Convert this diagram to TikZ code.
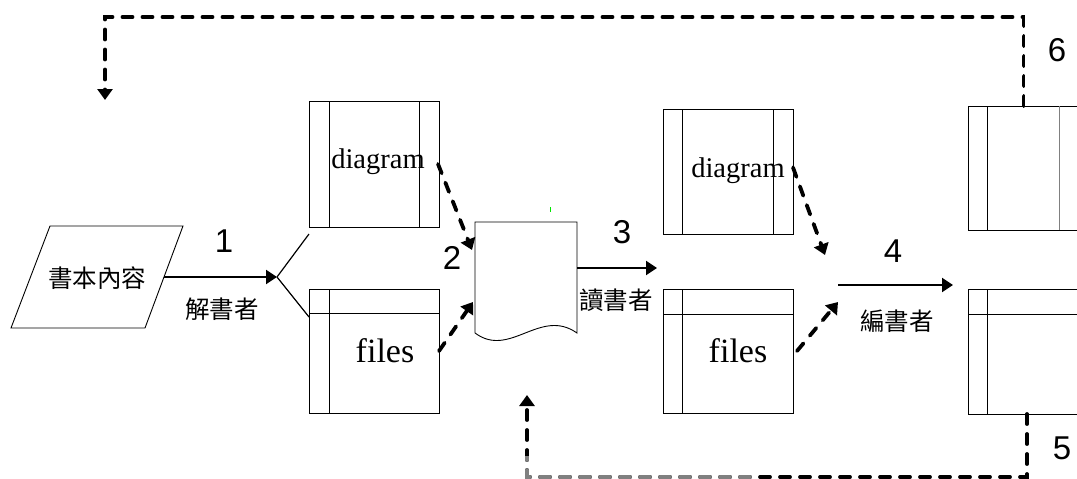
\documentclass[tikz,border=0pt]{standalone}
\usepackage{fontspec}
\setmainfont{Liberation Serif}
\newfontfamily\numfont{Liberation Sans}
\newfontfamily\cjk{Noto Sans CJK TC}
\usetikzlibrary{arrows.meta}
\begin{document}
\begin{tikzpicture}[x=1pt,y=-1pt,
 box/.style={draw, line width=0.9pt, rectangle, inner sep=0pt, outer sep=0pt, minimum width=130pt, minimum height=126pt},
 inner/.style={line width=0.9pt},
 solidarr/.style={line width=2pt, -{Triangle[length=11pt,width=14pt]}},
 dasharr/.style={line width=3.8pt, dash pattern=on 10pt off 10pt, line cap=round, -{Triangle[length=11pt,width=15pt]}},
 num/.style={font=\numfont\fontsize{33}{35}\selectfont, inner sep=0pt},
 zh/.style={font=\cjk\fontsize{24.5}{26}\selectfont, inner sep=0pt},
 word/.style={font=\fontsize{28.5}{30}\selectfont, inner sep=0pt},
 bigword/.style={font=\fontsize{34}{36}\selectfont, inner sep=0pt},
]
\useasboundingbox (0,0) rectangle (1077,479);
\clip (0,0) rectangle (1077,479);

% source parallelogram
\coordinate (p1) at (50,226);
\coordinate (p2) at (183,226);
\coordinate (p3) at (145,328);
\coordinate (p4) at (11,328);
\draw[line width=0.9pt] (p1) -- (p2) -- (p3) -- (p4) -- cycle;
\node[zh] (src) at (97,278) {書本內容};
\coordinate (srcR) at (164,277);
\coordinate (fork) at (277,277);

% boxes
\node[box] (d1) at (374,164) {};
\draw[inner] ([xshift=20pt]d1.north west) -- ([xshift=20pt]d1.south west);
\draw[inner] ([xshift=-20pt]d1.north east) -- ([xshift=-20pt]d1.south east);
\node[word] (t1) at (378,162) {diagram};

\node[box, minimum height=124pt] (f1) at (374,351) {};
\draw[inner] ([yshift=-24pt]f1.north west) -- ([yshift=-24pt]f1.north east);
\draw[inner] ([xshift=20pt]f1.north west) -- ([xshift=20pt]f1.south west);
\node[bigword] (t2) at (385,351) {files};

\node[box, minimum height=125pt] (d2) at (728,171.5) {};
\draw[inner] ([xshift=19pt]d2.north west) -- ([xshift=19pt]d2.south west);
\draw[inner] ([xshift=-20pt]d2.north east) -- ([xshift=-20pt]d2.south east);
\node[word] (t3) at (738,171) {diagram};

\node[box, minimum height=124pt] (f2) at (728,351) {};
\draw[inner] ([yshift=-25pt]f2.north west) -- ([yshift=-25pt]f2.north east);
\draw[inner] ([xshift=19pt]f2.north west) -- ([xshift=19pt]f2.south west);
\node[bigword] (t4) at (738,351) {files};

\node[box, minimum width=111pt, minimum height=124pt] (d3) at (1023.5,168) {};
\draw[inner] ([xshift=19pt]d3.north west) -- ([xshift=19pt]d3.south west);
\draw[inner, gray] ([xshift=-20pt]d3.north east) -- ([xshift=-20pt]d3.south east);

\node[box, minimum width=111pt, minimum height=125pt] (f3) at (1023.5,351.5) {};
\draw[inner] ([yshift=-25pt]f3.north west) -- ([yshift=-25pt]f3.north east);
\draw[inner] ([xshift=19pt]f3.north west) -- ([xshift=19pt]f3.south west);

% document
\node[inner sep=0pt, outer sep=0pt, minimum width=102pt, minimum height=111pt] (doc) at (526,277.5) {};
\draw[line width=0.9pt] (doc.south west) -- (doc.north west) -- (doc.north east) -- (doc.south east)
  .. controls (540,307) and (510,359) .. (doc.south west);
\draw[color={rgb,255:red,0;green,230;blue,0}, line width=1pt] (550,207) -- (550,212);

% step 1
\draw[solidarr] (srcR) -- (fork);
\draw[line width=1.2pt] (fork) -- ([yshift=-7pt]d1.south west);
\draw[line width=1.2pt] (fork) -- ([yshift=-28pt]f1.north west);
\node[num] (n1) at (224,241) {1};
\node[zh] (r1) at (222,309) {解書者};

% step 2
\coordinate (tip2a) at (472,250);
\coordinate (tip2b) at (473,302);
\draw[dasharr] ([xshift=-1pt]d1.east) -- (tip2a);
\draw[dasharr] (f1.east) -- (tip2b);
\node[num] (n2) at (452,258) {2};

% step 3
\coordinate (c3) at (657,268);
\draw[solidarr] ([yshift=9.5pt]doc.east) -- (c3);
\node[num] (n3) at (622,232) {3};
\node[zh] (r3) at (616,300) {讀書者};

% step 4
\coordinate (tip4a) at (825,255);
\coordinate (tip4b) at (838,302);
\coordinate (m4s) at (838,285);
\coordinate (m4e) at (953,285);
\draw[dasharr] ([yshift=4pt]d2.east) -- (tip4a);
\draw[dasharr] ([xshift=4pt]f2.east) -- (tip4b);
\draw[solidarr] (m4s) -- (m4e);
\node[num] (n4) at (893,251) {4};
\node[zh] (r4) at (897,321) {編書者};

% step 6 (top loop)
\coordinate (c6a) at (1023.5,17);
\coordinate (c6b) at (105,17);
\coordinate (c6c) at (105,100);
\draw[dasharr] (d3.north) -- (c6a) -- (c6b) -- (c6c);
\node[num] (n6) at (1057,50) {6};

% step 5 (bottom loop)
\coordinate (c5a) at (1027,477);
\coordinate (c5b) at (527,477);
\coordinate (c5c) at (527,395);
\draw[dasharr] ([xshift=3.5pt]f3.south) -- (c5a) -- (c5b) -- (c5c);
\begin{scope}
\clip (500,456) rectangle (752,479);
\draw[dasharr, gray] ([xshift=3.5pt]f3.south) -- (c5a) -- (c5b) -- (c5c);
\end{scope}
\node[num] (n5) at (1062,448) {5};
\end{tikzpicture}
\end{document}
